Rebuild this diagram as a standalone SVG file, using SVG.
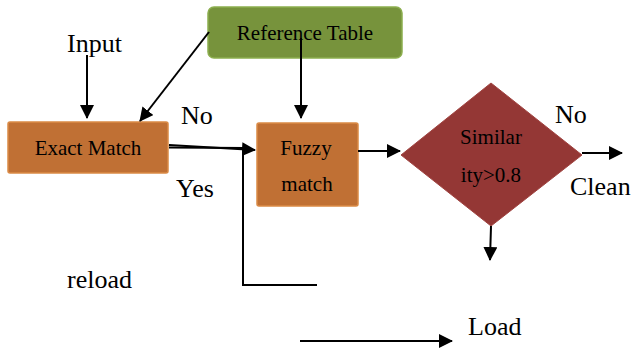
<svg xmlns="http://www.w3.org/2000/svg" width="632" height="350" viewBox="0 0 632 350">
<defs>
<marker id="ahs" markerWidth="14" markerHeight="14" refX="13" refY="7" orient="auto" markerUnits="userSpaceOnUse" viewBox="0 0 14 14"><path d="M0,0 L14,7 L0,14 z" fill="#000"/></marker>
<style>
text{fill:#000}
.ln{stroke:#000;stroke-width:2;fill:none}
.box{fill:#C07034;stroke:#DA8A45;stroke-width:1.5}
.lbl{font-size:26px}
.bt{font-size:21px}
</style>
</defs>
<rect width="632" height="350" fill="#fff"/>
<g font-family="Liberation Serif, Times New Roman, DejaVu Serif, serif">
<g id="reference-table">
<rect x="208" y="7" width="194" height="51" rx="6" fill="#77933C" stroke="#8CAE4E" stroke-width="1.5"/>
<text class="bt" x="305" y="40" text-anchor="middle">Reference Table</text>
</g>
<g id="input"><text class="lbl" x="67" y="52">Input</text></g>
<g id="exact-match">
<rect class="box" x="8" y="122" width="160" height="51" rx="2"/>
<text class="bt" x="88" y="155" text-anchor="middle">Exact Match</text>
</g>
<g id="fuzzy-match">
<rect class="box" x="257" y="123" width="101" height="83" rx="2"/>
<text class="bt" x="306" y="155" text-anchor="middle">Fuzzy</text>
<text class="bt" x="307" y="191" text-anchor="middle">match</text>
</g>
<g id="similarity">
<polygon points="401,155 491,83 582,155 491,226" fill="#943735" stroke="#A04340" stroke-width="1"/>
<text class="bt" x="491" y="144" text-anchor="middle">Similar</text>
<text class="bt" x="491" y="182" text-anchor="middle">ity&gt;0.8</text>
</g>
<g id="labels">
<text class="lbl" x="181" y="124">No</text>
<text class="lbl" x="176" y="197">Yes</text>
<text class="lbl" x="555" y="123">No</text>
<text class="lbl" x="570" y="195">Clean</text>
<text class="lbl" x="67" y="288">reload</text>
<text class="lbl" x="468" y="335">Load</text>
</g>
</g>
<g id="connectors">
<line class="ln" x1="87" y1="55" x2="87" y2="118" marker-end="url(#ahs)"/>
<line class="ln" x1="209" y1="32" x2="140" y2="121" marker-end="url(#ahs)"/>
<line class="ln" x1="301" y1="38" x2="301" y2="118" marker-end="url(#ahs)"/>
<line class="ln" x1="169" y1="145" x2="255" y2="150" marker-end="url(#ahs)"/>
<line class="ln" x1="169" y1="147.5" x2="245" y2="148"/>
<polyline class="ln" points="243,152 243,285 317,285"/>
<line class="ln" x1="358" y1="151" x2="400" y2="151" marker-end="url(#ahs)"/>
<line class="ln" x1="582" y1="153" x2="622" y2="153" marker-end="url(#ahs)"/>
<line class="ln" x1="491" y1="226" x2="490" y2="260" marker-end="url(#ahs)"/>
<line class="ln" x1="300" y1="341" x2="452" y2="341" marker-end="url(#ahs)"/>
</g>
</svg>
